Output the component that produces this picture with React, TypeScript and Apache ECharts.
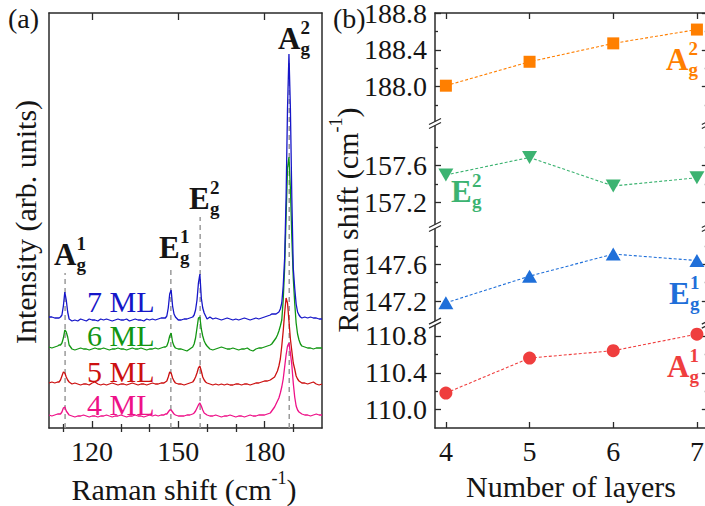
import React, { useEffect, useRef } from "react";
import * as echarts from "echarts";

// ---------- panel (a): Raman spectra ----------
const ramanShift = [
  105, 106, 107, 108,
  108.5, 109, 109.5, 110, 110.5, 111, 111.5, 112,
  113, 114, 115, 116, 117, 118, 119, 120, 121, 122, 123, 124, 125, 126, 127, 128, 129, 130, 131, 132, 133, 134, 135, 136, 137, 138, 139, 140, 141, 142, 143, 144, 145,
  145.5, 146, 146.5, 147, 147.5, 148, 148.5, 149,
  150, 151, 152, 153, 154, 155,
  155.5, 156, 156.5, 157, 157.5, 158, 158.5, 159, 159.5, 160,
  161, 162, 163, 164, 165, 166, 167, 168, 169, 170, 171, 172, 173, 174, 175, 176, 177, 178, 179, 180, 181, 182,
  182.5, 183, 183.5, 184, 184.5, 185, 185.5, 186, 186.5, 187, 187.5, 188, 188.5, 189, 189.5, 190, 190.5, 191, 191.5, 192, 192.5, 193,
  194, 195, 196, 197, 198, 199, 200,
];

const intensity7ML = [
  1, 1, 0, 0,
  0, 1, 3, 12, 26, 18, 6, -1,
  -3, -2, -3, -1, -2, -3, -1, -2, -2, -3, -1, -2, -1, -2, -3, -2, -1, -2, -2, -1, -3, -2, -1, -2, -2, -3, -1, -2, -1, -2, -1, 0, 0,
  0, 2, 10, 24, 28, 12, 4, 1,
  -2, -2, -1, -1, 0, 1,
  3, 8, 18, 35, 44, 20, 10, 5, 2, -1,
  1, -1, 0, -1, -2, -1, 0, -1, -2, -1, -2, -1, 0, -1, -2, -1, 0, -1, 0, 1, 2, 3,
  4, 4, 4, 4, 5, 6, 9, 15, 32, 60, 120, 210, 264, 210, 120, 50, 30, 14, 6, 3, 1, 0,
  1, 0, 1, 0, 0, -1, -1,
];

const intensity6ML = [
  1, 0, 1, 2,
  3, 3, 5, 10, 18, 16, 11, 3,
  -1, -2, -1, 0, -1, -1, -2, -1, 0, -1, -1, 0, -1, -2, -1, -1, 0, -1, -1, -2, -1, 0, -1, -1, 0, -1, -2, -1, -1, 0, -1, 0, 1,
  1, 2, 6, 12, 15, 6, 2, 0,
  -1, -1, -2, -3, -1, 1,
  4, 10, 20, 30, 31, 19, 12, 7, 4, 2,
  -1, -2, -1, 0, 1, 0, -1, -1, 0, -1, -2, -1, -1, 0, -2, -3, -1, 0, 0, 1, 2, 3,
  4, 6, 8, 10, 13, 17, 22, 28, 48, 80, 130, 180, 191, 160, 110, 70, 45, 25, 14, 8, 4, 2,
  1, 0, 0, -1, 0, 0, 0,
];

const intensity5ML = [
  0, 1, 0, 1,
  1, 3, 7, 11, 10, 6, 3, 1,
  -1, 0, -1, -2, -1, -1, -2, 0, 1, -1, -2, -1, -2, -1, 0, -1, -2, -1, -1, -2, -1, 0, -1, -2, -1, -1, -2, -1, 0, -1, -1, 0, 0,
  1, 2, 6, 11, 10, 5, 2, 0,
  -1, -1, -2, -1, 0, 1,
  3, 6, 10, 15, 17, 12, 6, 3, 1, 0,
  -1, -2, -1, -2, -1, -2, -1, -2, -2, -1, -1, -2, -1, -1, -2, -1, 0, 0, 1, 2, 2, 3,
  4, 5, 6, 9, 12, 17, 24, 37, 52, 70, 85, 80, 62, 44, 32, 20, 14, 7, 4, 2, 1, 0,
  0, -1, 0, 1, -1, -2, -1,
];

const intensity4ML = [
  0, -1, 0, 1,
  1, 1, 3, 7, 8, 4, 2, 0,
  -1, -2, -1, -1, 0, -1, -2, -1, -1, -2, -1, -1, 0, -1, -2, -1, -1, 0, -1, -2, -1, -1, 0, -1, -1, -2, -1, 0, -1, 0, -1, 0, 0,
  1, 1, 3, 5, 5, 3, 1, 0,
  -1, -1, -1, 0, 0, 1,
  2, 4, 7, 10, 12, 9, 5, 2, 1, 0,
  -1, -1, 0, -1, -2, -1, -1, 0, -1, -2, -1, -1, -2, -1, 0, -1, -1, 0, 0, 0, 1, 2,
  4, 6, 8, 11, 14, 17, 22, 28, 36, 48, 60, 69, 72, 62, 50, 32, 18, 9, 5, 3, 2, 1,
  0, 0, -1, 0, 1, 0, 0,
];

const spectraNames = ["4 ML", "5 ML", "6 ML", "7 ML"];
const spectraValues = [intensity4ML, intensity5ML, intensity6ML, intensity7ML];
const spectraOffsets = [13, 45, 80, 110];
const spectraColors = ["#ee1188", "#cc1010", "#129612", "#1616c8"];

const peakShift = [110.6, 147.4, 157.6, 188.6];
const peakGuideTop = [155, 158, 211, 368];

const shiftTicksMajor = [120, 150, 180];
const shiftTicksMinor = [110, 130, 140, 160, 170, 190];

// ---------- panel (b): peak positions vs layers ----------
const layers = [4, 5, 6, 7];
const modeA2 = [188.01, 188.27, 188.47, 188.62];
const modeE2 = [157.5, 157.69, 157.38, 157.47];
const modeE1 = [147.18, 147.47, 147.71, 147.64];
const modeA1 = [110.18, 110.56, 110.64, 110.82];

const segRanges = [
  [187.6, 188.8],
  [156.94, 158.06],
  [146.96, 148.01],
  [109.8, 110.94],
];
const segMajor = [
  [188.0, 188.4, 188.8],
  [157.2, 157.6],
  [147.2, 147.6],
  [110.0, 110.4, 110.8],
];
const segMinor = [
  [187.8, 188.2, 188.6],
  [157.4, 157.8],
  [147.4, 147.8],
  [110.2, 110.6],
];

const FONT = "'Liberation Serif', 'Times New Roman', serif";
const INK = "#151515";
const AXIS = "#2a2a2a";

export default function App() {
  const ref = useRef<HTMLDivElement>(null);

  useEffect(() => {
    if (!ref.current) return;
    const chart = echarts.init(ref.current, null, { renderer: "svg" });

    const Lg = { left: 49, top: 13, width: 273, height: 415 };
    const Rg = { left: 435, top: 13, width: 272.8, height: 415 };

    const total = segRanges.reduce((s, r) => s + (r[1] - r[0]), 0);
    const ppu = Rg.height / total;
    const segTops: number[] = [];
    const segHeights: number[] = [];
    let acc = Rg.top;
    segRanges.forEach((r) => {
      segTops.push(acc);
      const h = (r[1] - r[0]) * ppu;
      segHeights.push(h);
      acc += h;
    });

    const axisLine = { show: true, onZero: false, lineStyle: { color: AXIS, width: 1.5 } };
    const tickStyle = { color: AXIS, width: 1.3 };
    const labelStyle = { fontSize: 28, lineHeight: 24, fontFamily: FONT, color: INK };

    const grids: any[] = [
      { ...Lg, show: false, outerBoundsMode: "none", containLabel: false },
      ...segTops.map((t, i) => ({
        left: Rg.left,
        top: t,
        width: Rg.width,
        height: segHeights[i],
        show: false,
        outerBoundsMode: "none",
        containLabel: false,
      })),
    ];

    const xAxes: any[] = [
      {
        gridIndex: 0, type: "value", min: 105, max: 200, position: "bottom",
        axisLine,
        axisTick: { show: true, inside: true, length: 7, customValues: shiftTicksMajor, lineStyle: tickStyle },
        axisLabel: { show: true, customValues: shiftTicksMajor, margin: 11, ...labelStyle },
        splitLine: { show: false },
      },
      {
        gridIndex: 0, type: "value", min: 105, max: 200, position: "bottom",
        axisLine: { show: false },
        axisTick: { show: true, inside: true, length: 4, customValues: shiftTicksMinor, lineStyle: tickStyle },
        axisLabel: { show: false },
        splitLine: { show: false },
      },
      {
        gridIndex: 0, type: "value", min: 105, max: 200, position: "top",
        axisLine,
        axisTick: { show: true, inside: true, length: 7, customValues: shiftTicksMajor, lineStyle: tickStyle },
        axisLabel: { show: false },
        splitLine: { show: false },
      },
      {
        gridIndex: 0, type: "value", min: 105, max: 200, position: "top",
        axisLine: { show: false },
        axisTick: { show: true, inside: true, length: 4, customValues: shiftTicksMinor, lineStyle: tickStyle },
        axisLabel: { show: false },
        splitLine: { show: false },
      },
    ];
    segRanges.forEach((_, i) => {
      const base = { gridIndex: i + 1, type: "value", min: 3.87, max: 7.13, splitLine: { show: false } };
      if (i === 0) {
        xAxes.push({
          ...base, position: "top", axisLine,
          axisTick: { show: true, inside: true, length: 6, customValues: layers, lineStyle: tickStyle },
          axisLabel: { show: false },
        });
      } else if (i === segRanges.length - 1) {
        xAxes.push({
          ...base, position: "bottom", axisLine,
          axisTick: { show: true, inside: true, length: 6, customValues: layers, lineStyle: tickStyle },
          axisLabel: { show: true, customValues: layers, margin: 11, ...labelStyle },
        });
      } else {
        xAxes.push({ ...base, show: false });
      }
    });

    const yAxes: any[] = [
      {
        gridIndex: 0, type: "value", min: 0, max: 415, position: "left",
        axisLine, axisTick: { show: false }, axisLabel: { show: false }, splitLine: { show: false },
      },
      {
        gridIndex: 0, type: "value", min: 0, max: 415, position: "right",
        axisLine, axisTick: { show: false }, axisLabel: { show: false }, splitLine: { show: false },
      },
    ];
    segRanges.forEach((r, i) => {
      const base = { gridIndex: i + 1, type: "value", min: r[0], max: r[1], splitLine: { show: false } };
      yAxes.push({
        ...base, position: "left", axisLine,
        axisTick: { show: true, inside: true, length: 6, customValues: segMajor[i], lineStyle: tickStyle },
        axisLabel: {
          show: true, customValues: segMajor[i], margin: 8, ...labelStyle,
          formatter: (v: number) => Number(v).toFixed(1),
        },
      });
      yAxes.push({
        ...base, position: "left", axisLine: { show: false },
        axisTick: { show: true, inside: true, length: 3, customValues: segMinor[i], lineStyle: tickStyle },
        axisLabel: { show: false },
      });
      yAxes.push({
        ...base, position: "right", axisLine,
        axisTick: { show: true, inside: true, length: 6, customValues: segMajor[i], lineStyle: tickStyle },
        axisLabel: { show: false },
      });
      yAxes.push({
        ...base, position: "right", axisLine: { show: false },
        axisTick: { show: true, inside: true, length: 3, customValues: segMinor[i], lineStyle: tickStyle },
        axisLabel: { show: false },
      });
    });

    const series: any[] = [];
    peakShift.forEach((p, i) => {
      series.push({
        type: "line", xAxisIndex: 0, yAxisIndex: 0, silent: true, symbol: "none", z: 1,
        data: [[p, 0], [p, peakGuideTop[i]]],
        lineStyle: { color: "#9a9a9a", width: 1.5, type: [5, 4] },
      });
    });
    spectraValues.forEach((vals, k) => {
      series.push({
        name: spectraNames[k], type: "line", xAxisIndex: 0, yAxisIndex: 0, silent: true,
        showSymbol: false, symbol: "none", z: 2 + k,
        data: ramanShift.map((x, j) => [x, vals[j] + spectraOffsets[k]]),
        lineStyle: { color: spectraColors[k], width: 1.3 },
      });
    });

    const modeSets = [
      { data: modeA2, color: "#ff7f00", symbol: "rect", size: [12, 12], rotate: 0 },
      { data: modeE2, color: "#3cb371", symbol: "triangle", size: [15, 13], rotate: 180 },
      { data: modeE1, color: "#1f6fd9", symbol: "triangle", size: [15, 13], rotate: 0 },
      { data: modeA1, color: "#ef3e3e", symbol: "circle", size: 13, rotate: 0 },
    ];
    modeSets.forEach((m, i) => {
      series.push({
        type: "line", xAxisIndex: 4 + i, yAxisIndex: 2 + i * 4, silent: true,
        data: layers.map((l, j) => [l, m.data[j]]),
        symbol: m.symbol, symbolSize: m.size, symbolRotate: m.rotate, showSymbol: true,
        itemStyle: { color: m.color },
        lineStyle: { color: m.color, width: 1.1, type: [3, 2] },
        z: 5,
      });
    });

    const txt = (x: number, y: number, text: string, size: number, color: string, weight = "normal", align = "left") => ({
      type: "text", x, y, silent: true, z: 20,
      style: { text, fontSize: size, fontFamily: FONT, fontWeight: weight, fill: color, align, verticalAlign: "middle" },
    });
    const mode = (x: number, y: number, base: string, sup: string, color: string) => {
      const w = base === "A" ? 22.5 : 21;
      return [
        txt(x, y, base, 31, color, "bold"),
        txt(x + w, y - 11, sup, 19, color, "bold"),
        txt(x + w, y + 10, "g", 19, color, "bold"),
      ];
    };

    const titleRich = {
      m: { fontSize: 30, fontFamily: FONT, fill: INK, lineHeight: 40 },
      s: { fontSize: 18, fontFamily: FONT, fill: INK, lineHeight: 18, verticalAlign: "top" },
    };

    const graphics: any[] = [
      txt(8, 18, "(a)", 28, INK),
      txt(333, 18, "(b)", 28, INK),
      ...mode(54, 254, "A", "1", INK),
      ...mode(159, 247, "E", "1", INK),
      ...mode(189, 198, "E", "2", INK),
      ...mode(278, 38, "A", "2", INK),
      ...mode(666, 59, "A", "2", "#ff7f00"),
      ...mode(451, 191, "E", "2", "#3cb371"),
      ...mode(669, 293, "E", "1", "#1f6fd9"),
      ...mode(667, 366, "A", "1", "#ef3e3e"),
      txt(87, 301, "7 ML", 30, spectraColors[3]),
      txt(87, 335, "6 ML", 30, spectraColors[2]),
      txt(87, 371, "5 ML", 30, spectraColors[1]),
      txt(87, 404, "4 ML", 30, spectraColors[0]),
      {
        type: "text", x: 184, y: 489, silent: true,
        style: { text: "{m|Raman shift (cm}{s|-1}{m|)}", align: "center", verticalAlign: "middle", rich: titleRich },
      },
      txt(571, 486, "Number of layers", 30, INK, "normal", "center"),
      {
        type: "text", x: 25, y: 222, rotation: Math.PI / 2, silent: true,
        style: { text: "Intensity (arb. units)", fontSize: 30, fontFamily: FONT, fill: INK, align: "center", verticalAlign: "middle" },
      },
      {
        type: "text", x: 347, y: 220, rotation: Math.PI / 2, silent: true,
        style: { text: "{m|Raman shift (cm}{s|-1}{m|)}", align: "center", verticalAlign: "middle", rich: titleRich },
      },
    ];

    // break marks on the broken axis
    for (let b = 1; b < segTops.length; b++) {
      const yb = segTops[b];
      [Rg.left, Rg.left + Rg.width].forEach((xa) => {
        graphics.push({
          type: "polygon", silent: true, z: 30,
          shape: { points: [[xa - 6, yb + 1], [xa + 6, yb - 5], [xa + 6, yb - 1], [xa - 6, yb + 5]] },
          style: { fill: "#ffffff" },
        });
        graphics.push({
          type: "line", silent: true, z: 31,
          shape: { x1: xa - 6, y1: yb + 1, x2: xa + 6, y2: yb - 5 },
          style: { stroke: AXIS, lineWidth: 1.2 },
        });
        graphics.push({
          type: "line", silent: true, z: 31,
          shape: { x1: xa - 6, y1: yb + 5, x2: xa + 6, y2: yb - 1 },
          style: { stroke: AXIS, lineWidth: 1.2 },
        });
      });
    }

    chart.setOption({
      animation: false,
      backgroundColor: "#ffffff",
      grid: grids,
      xAxis: xAxes,
      yAxis: yAxes,
      series,
      graphic: graphics,
    });

    return () => chart.dispose();
  }, []);

  return (
    <div
      ref={ref}
      style={{ position: "absolute", left: 0, top: 0, width: 705, height: 506, background: "#fff" }}
    />
  );
}
